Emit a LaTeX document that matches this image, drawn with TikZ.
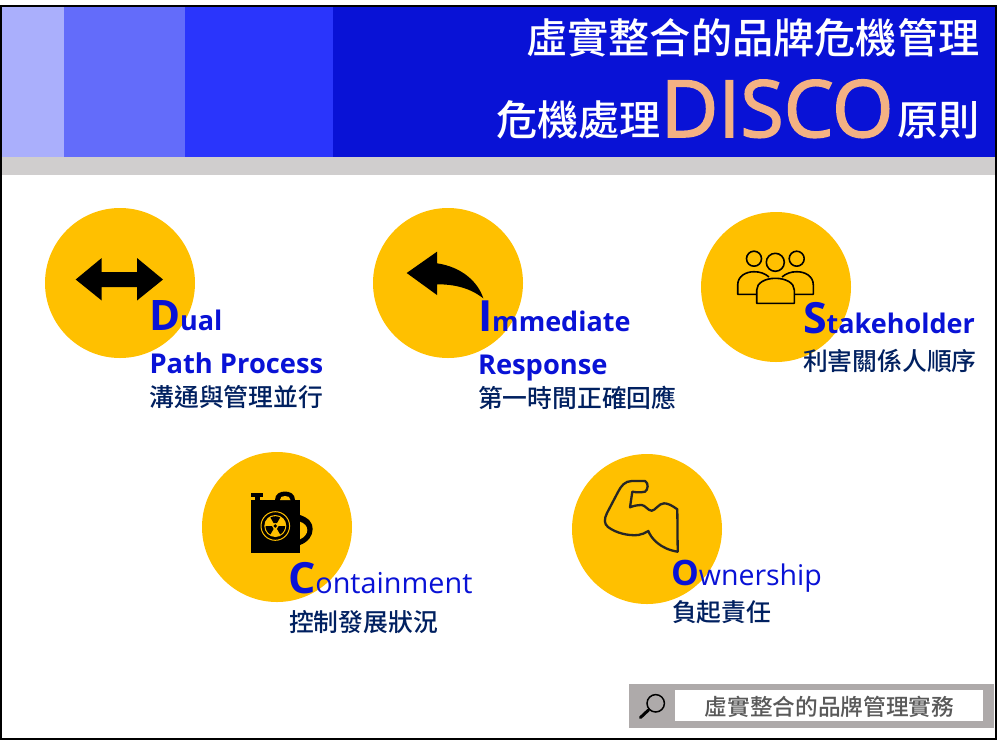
\documentclass[tikz,border=0pt]{standalone}
\usepackage{fontspec}
\usetikzlibrary{calc}
\setmainfont{Open Sans}
\newfontfamily\cjk{Noto Sans CJK TC Medium}
\newfontfamily\discofont[FakeBold=2]{Open Sans}
\definecolor{hA}{HTML}{AAAFFC}
\definecolor{hB}{HTML}{636CFA}
\definecolor{hC}{HTML}{2A35FC}
\definecolor{hD}{HTML}{0912D6}
\definecolor{band}{HTML}{D0CECE}
\definecolor{gold}{HTML}{FFC000}
\definecolor{navy}{HTML}{002060}
\definecolor{disco}{HTML}{F4B183}
\definecolor{foot}{HTML}{AEAAAA}
\definecolor{foottext}{HTML}{595959}
\definecolor{muscle}{HTML}{262626}
\newcommand{\fs}[1]{\fontsize{#1}{#1}\selectfont}
\tikzset{
  disc/.style={circle,fill=gold,draw=none,minimum size=150pt,inner sep=0pt},
  txt/.style={anchor=base west,inner sep=0pt,outer sep=0pt},
  rtxt/.style={anchor=base east,inner sep=0pt,outer sep=0pt},
  head/.style={txt,text=hD},
  sub/.style={txt,text=navy,font=\cjk\fs{24.8}},
  title/.style={text=white,font=\cjk\fs{41.2}},
  icon/.style={draw=black,line width=1.6pt,fill=none,line join=round},
}
\begin{document}
\begin{tikzpicture}[x=1pt,y=-1pt]
\useasboundingbox (0,0) rectangle (1006,740);
\fill[white] (0,0) rectangle (1006,740);
% frame
\draw[black,line width=2pt] (1,6) rectangle (995.5,739);
% header
\fill[hD] (2,7) rectangle (995,157);
\fill[hA] (2,7) rectangle (64,157);
\fill[hB] (64,7) rectangle (185,157);
\fill[hC] (185,7) rectangle (333,157);
\fill[band] (2,157) rectangle (995,175);
\node[rtxt,title] (t1) at (979.5,53) {虛實整合的品牌危機管理};
\node[rtxt,title] (t2c) at (979.5,135.5) {原則};
\node[rtxt,text=disco,font=\discofont\fs{79}] (t2b) at (893.5,137) {DISCO};
\node[rtxt,title] (t2a) at (661,135.5) {危機處理};
% discs
\node[disc] (c1) at (120,283) {};
\node[disc] (c2) at (448,283) {};
\node[disc] (c3) at (776,287) {};
\node[disc] (c4) at (277,527) {};
\node[disc] (c5) at (647,529) {};
% double arrow
\fill[black] (75.7,279.5) -- (101.7,258) -- (101.7,272) -- (137,272) -- (137,258) -- (163,279.5)
  -- (137,300.5) -- (137,287) -- (101.7,287) -- (101.7,300.5) -- cycle;
% reply arrow
\fill[black] (406.7,273) -- (437,251.7) -- (437,263.3) .. controls (462,267) and (478,282) .. (483.3,298.3)
  .. controls (470,288) and (455,284.3) .. (437,284.3) -- (437,295) -- cycle;
% people
\draw[icon] (754,258.7) circle (7.5);
\draw[icon] (775.3,262.3) circle (9);
\draw[icon] (796.7,258.7) circle (7.5);
\draw[icon] (756.7,294.3) -- (737.7,294.3) -- (737.7,285) .. controls (737.7,276) and (746,271.7) .. (754,271.7) .. controls (760,271.7) and (765,273.5) .. (769,277);
\draw[icon] (794.3,294.3) -- (813.3,294.3) -- (813.3,285) .. controls (813.3,276) and (805,271.7) .. (796.7,271.7) .. controls (791,271.7) and (786,273.5) .. (782,277);
\draw[icon] (756.7,303.3) -- (756.7,290) .. controls (756.7,283) and (765,278.3) .. (775.3,278.3) .. controls (786,278.3) and (794.3,283) .. (794.3,290) -- (794.3,303.3) -- cycle;
% jerry can
\fill[black] (251,500) rectangle (300,553.3);
\fill[black] (251,492.7) rectangle (263.3,496.5);
\fill[black] (255,492.7) rectangle (260,500);
\fill[black] (275,500) .. controls (275,494) and (280,491.5) .. (285,491.5) .. controls (290,491.5) and (295,494) .. (295,500) -- cycle;
\fill[gold] (280,500) .. controls (280,497) and (282,496) .. (285,496) .. controls (288,496) and (290.5,497) .. (290.5,500) -- cycle;
\fill[black] (300,515) .. controls (309,518) and (312.7,523) .. (312.7,529) .. controls (312.7,536) and (308,542) .. (300,545) -- cycle;
\fill[gold] (300,521.7) .. controls (304,523) and (307.3,526) .. (307.3,530) .. controls (307.3,534) and (304,537.5) .. (300,539.3) -- cycle;
\draw[gold,line width=1pt] (275.3,526) circle (14.3);
\fill[gold] (275.3,526) circle (11);
\foreach \a in {270,30,150}{
  \fill[black] ($(275.3,526)+({\a-30}:3.4)$) -- ($(275.3,526)+({\a-30}:9.8)$)
    -- ($(275.3,526)+({\a-15}:9.8)$) -- ($(275.3,526)+({\a}:9.8)$) -- ($(275.3,526)+({\a+15}:9.8)$)
    -- ($(275.3,526)+({\a+30}:9.8)$) -- ($(275.3,526)+({\a+30}:3.4)$) -- cycle;
}
\fill[black] (275.3,526) circle (1.9);
% muscle
\draw[draw=muscle,line width=2.3pt,line join=round,line cap=round]
  (677.7,551.7) -- (677.3,509.3) .. controls (672,505.5) and (668,503.3) .. (664,503.3)
  .. controls (659,503.3) and (655,510.7) .. (651.7,510.7)
  .. controls (648,510.7) and (645,505) .. (641.7,505)
  .. controls (637,505) and (633,506) .. (630,507.3) -- (632.3,491.7)
  .. controls (637,492.5) and (641,492.5) .. (645,491.7)
  .. controls (648,490) and (649,483) .. (645,481) -- (631.7,481)
  .. controls (625,481) and (621,486) .. (618,492) -- (607,513)
  .. controls (604,519) and (604,524) .. (608,527)
  .. controls (616,533) and (628,536) .. (638.3,535)
  .. controls (642,534.5) and (645,533) .. (648.3,531)
  .. controls (651,538) and (660,549) .. (677.7,551.7);
% labels
\node[head] (d1) at (149,330) {\bfseries\fs{42}D\fs{27}ual};
\node[head,font=\bfseries\fs{27.3}] (d2) at (149.5,373) {Path Process};
\node[sub] (d3) at (149.5,406) {溝通與管理並行};
\node[head] (i1) at (478,331) {\bfseries\fs{43}I\fs{27}mmediate};
\node[head,font=\bfseries\fs{27.3}] (i2) at (478,374) {Response};
\node[sub] (i3) at (478,407) {第一時間正確回應};
\node[head] (s1) at (803,333) {\bfseries\fs{43}S\fs{27}takeholder};
\node[sub] (s3) at (803,370) {利害關係人順序};
\node[head] (co1) at (288,593) {{\bfseries\fs{43}C}\fs{28.8}ontainment};
\node[sub] (co3) at (289,631) {控制發展狀況};
\node[head] (o1) at (671,585) {{\bfseries\fs{35}O}\fs{28.5}wnership};
\node[sub] (o3) at (672,621) {負起責任};
% footer
\fill[foot] (629,684) rectangle (994,728);
\fill[white] (675,690) rectangle (983,721);
\node[anchor=base,inner sep=0pt,text=foottext,font=\cjk\fs{22.7}] (ft) at (829.5,715) {虛實整合的品牌管理實務};
\draw[black,line width=1.5pt] (655.7,703.3) circle (8.7);
\draw[black,line width=3pt,line cap=round] (648.5,710) -- (640.5,717.5);
\end{tikzpicture}
\end{document}
